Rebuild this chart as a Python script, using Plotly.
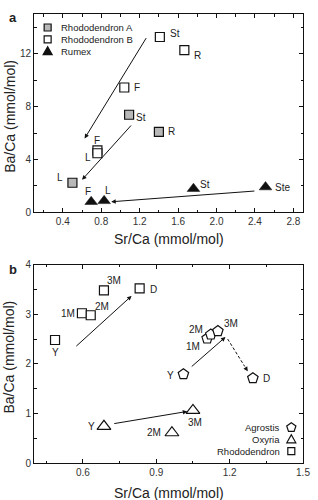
import plotly.graph_objects as go

# ---------------- data: panel a ----------------
rhodoA_x = [1.09, 1.40, 0.50]
rhodoA_y = [7.38, 6.09, 2.24]
rhodoA_lab = ["St", "R", "L"]

rhodoB_x = [1.41, 1.665, 1.04, 0.76, 0.76]
rhodoB_y = [13.26, 12.27, 9.44, 4.69, 4.47]
rhodoB_lab = ["St", "R", "F", "F", "L"]

rumex_x = [0.695, 0.83, 1.76, 2.51]
rumex_y = [0.80, 0.87, 1.79, 1.91]
rumex_lab = ["F", "L", "St", "Ste"]

arrows_a = [((1.277, 13.29), (0.627, 5.59)),
            ((1.124, 6.68), (0.600, 2.46)),
            ((2.41, 1.62), (0.904, 0.80))]

# ---------------- data: panel b ----------------
rhodo_x = [0.486, 0.596, 0.632, 0.686, 0.832]
rhodo_y = [2.48, 3.02, 2.98, 3.48, 3.52]
rhodo_lab = ["Y", "1M", "2M", "3M", "D"]

agro_x = [1.011, 1.108, 1.123, 1.152, 1.295]
agro_y = [1.79, 2.51, 2.59, 2.66, 1.71]
agro_lab = ["Y", "1M", "2M", "3M", "D"]

oxy_x = [0.686, 0.964, 1.05]
oxy_y = [0.74, 0.61, 1.06]
oxy_lab = ["Y", "2M", "3M"]

arrows_b = [((0.567, 2.33), (0.799, 3.37)),
            ((1.039, 1.92), (1.183, 2.54)),
            ((0.722, 0.79), (1.027, 1.04))]
dashed_b = [((1.192, 2.50), (1.274, 1.85))]

# label offsets (pixels): xshift, yshift, xanchor
off_rhodoA = [(5, -3, "left"), (7, 0, "left"), (-7, 5, "right")]
off_rhodoB = [(8, 4, "left"), (8, -5, "left"), (8, 0, "left"), (0, 10, "center"), (-4, -4, "right")]
off_rumex = [(-3, 10, "center"), (4, 10, "center"), (5, 4, "left"), (7, 0, "left")]
off_rhodo = [(0, -12, "center"), (-5, 0, "right"), (11, 9, "center"), (10, 10, "center"), (8, -1, "left")]
off_agro = [(-7, -1, "right"), (-5, -8, "right"), (-6, 5, "right"), (4, 8, "left"), (8, 0, "left")]
off_oxy = [(-7, 0, "right"), (-9, 0, "right"), (2, -12, "center")]

FONT = "Liberation Sans, Arial, sans-serif"
TXT = "#222"

fig = go.Figure()

# panel a traces
fig.add_trace(go.Scatter(x=rhodoA_x, y=rhodoA_y, mode="markers", xaxis="x", yaxis="y",
                         marker=dict(symbol="square", size=9, color="#b8b8b8",
                                     line=dict(color="#111", width=1.2)), showlegend=False))
fig.add_trace(go.Scatter(x=rhodoB_x, y=rhodoB_y, mode="markers", xaxis="x", yaxis="y",
                         marker=dict(symbol="square", size=9, color="white",
                                     line=dict(color="#111", width=1.2)), showlegend=False))
fig.add_trace(go.Scatter(x=rumex_x, y=rumex_y, mode="markers", xaxis="x", yaxis="y",
                         marker=dict(symbol="triangle-up", size=11, color="#111",
                                     line=dict(color="#111", width=0.5)), showlegend=False))

# panel b traces
fig.add_trace(go.Scatter(x=rhodo_x, y=rhodo_y, mode="markers", xaxis="x2", yaxis="y2",
                         marker=dict(symbol="square", size=9, color="white",
                                     line=dict(color="#111", width=1.2)), showlegend=False))
fig.add_trace(go.Scatter(x=agro_x, y=agro_y, mode="markers", xaxis="x2", yaxis="y2",
                         marker=dict(symbol="pentagon", size=11, color="white",
                                     line=dict(color="#111", width=1.2)), showlegend=False))
fig.add_trace(go.Scatter(x=oxy_x, y=oxy_y, mode="markers", xaxis="x2", yaxis="y2",
                         marker=dict(symbol="triangle-up", size=12, color="white",
                                     line=dict(color="#111", width=1.2)), showlegend=False))

ann = []
shapes = []


def add_labels(xs, ys, labs, offs, xr, yr):
    for x, y, t, (dx, dy, anc) in zip(xs, ys, labs, offs):
        ann.append(dict(x=x, y=y, xref=xr, yref=yr, text=t, showarrow=False,
                        xanchor=anc, yanchor="middle", xshift=dx, yshift=dy,
                        font=dict(family=FONT, size=10, color=TXT)))


add_labels(rhodoA_x, rhodoA_y, rhodoA_lab, off_rhodoA, "x", "y")
add_labels(rhodoB_x, rhodoB_y, rhodoB_lab, off_rhodoB, "x", "y")
add_labels(rumex_x, rumex_y, rumex_lab, off_rumex, "x", "y")
add_labels(rhodo_x, rhodo_y, rhodo_lab, off_rhodo, "x2", "y2")
add_labels(agro_x, agro_y, agro_lab, off_agro, "x2", "y2")
add_labels(oxy_x, oxy_y, oxy_lab, off_oxy, "x2", "y2")


def add_arrow(tail, head, xr, yr):
    ann.append(dict(x=head[0], y=head[1], ax=tail[0], ay=tail[1], xref=xr, yref=yr,
                    axref=xr, ayref=yr, text="", showarrow=True, arrowhead=2,
                    arrowsize=0.9, arrowwidth=1, arrowcolor="#111", standoff=0))


for t, h in arrows_a:
    add_arrow(t, h, "x", "y")
for t, h in arrows_b:
    add_arrow(t, h, "x2", "y2")
for t, h in dashed_b:
    f = 0.85
    mid = (t[0] + f * (h[0] - t[0]), t[1] + f * (h[1] - t[1]))
    shapes.append(dict(type="line", xref="x2", yref="y2", x0=t[0], y0=t[1], x1=mid[0], y1=mid[1],
                       line=dict(color="#111", width=1, dash="3px,2px")))
    add_arrow(mid, h, "x2", "y2")

# ---- legends (drawn as shapes + text, pixel-sized) ----
L, T, W, H = 34, 8, 276, 455


def px2paper(px, py):
    return (px - L) / W, (T + H - py) / H


def legend_marker(px, py, kind, fill):
    xa, ya = px2paper(px, py)
    base = dict(xref="paper", yref="paper", xsizemode="pixel", ysizemode="pixel",
                xanchor=xa, yanchor=ya, line=dict(color="#111", width=1.2), fillcolor=fill)
    if kind == "square":
        s = 3.5
        base.update(type="rect", x0=-s, x1=s, y0=-s, y1=s)
    elif kind == "triangle":
        base.update(type="path", path="M -4.5 -3.5 L 4.5 -3.5 L 0 4.5 Z")
    elif kind == "pentagon":
        base.update(type="path", path="M 0 4.8 L 4.6 1.5 L 2.8 -3.9 L -2.8 -3.9 L -4.6 1.5 Z")
    shapes.append(base)


legA = [("Rhododendron A", "square", "#b8b8b8"),
        ("Rhododendron B", "square", "white"),
        ("Rumex", "triangle", "#111")]
for i, (name, kind, fill) in enumerate(legA):
    py = 21.7 + i * 12
    legend_marker(48, py, kind, fill)
    xa, ya = px2paper(60, py)
    ann.append(dict(x=xa, y=ya, xref="paper", yref="paper", text=name, showarrow=False,
                    xanchor="left", yanchor="middle",
                    font=dict(family=FONT, size=9.5, color=TXT)))

legB = [("Agrostis", "pentagon", "white"),
        ("Oxyria", "triangle", "white"),
        ("Rhododendron", "square", "white")]
for i, (name, kind, fill) in enumerate(legB):
    py = 427 + i * 12
    legend_marker(298, py, kind, fill)
    xa, ya = px2paper(288, py)
    ann.append(dict(x=xa, y=ya, xref="paper", yref="paper", text=name, showarrow=False,
                    xanchor="right", yanchor="middle",
                    font=dict(family=FONT, size=9.5, color=TXT)))

# axis titles and panel letters
for text, px, py, rot, size, bold in [
    ("Sr/Ca (mmol/mol)", 172, 236, 0, 14, False),
    ("Sr/Ca (mmol/mol)", 172, 493, 0, 14, False),
    ("Ba/Ca (mmol/mol)", 8.5, 112, -90, 14, False),
    ("Ba/Ca (mmol/mol)", 8.5, 356, -90, 14, False),
    ("a", 12, 12, 0, 13, True),
    ("b", 12, 267, 0, 13, True)]:
    xa, ya = px2paper(px, py)
    ann.append(dict(x=xa, y=ya, xref="paper", yref="paper",
                    text=("<b>%s</b>" % text) if bold else text, showarrow=False,
                    xanchor="center", yanchor="middle", textangle=rot,
                    font=dict(family=FONT, size=size, color=TXT)))

axis_common = dict(showline=True, linecolor="#111", linewidth=1, mirror="ticks",
                   ticks="inside", ticklen=4, tickwidth=1, tickcolor="#111",
                   showgrid=False, zeroline=False,
                   tickfont=dict(family=FONT, size=10, color="#333"))

fig.update_layout(
    width=318, height=500,
    margin=dict(l=L, r=318 - L - W, t=T, b=500 - T - H),
    plot_bgcolor="white", paper_bgcolor="white",
    showlegend=False,
    xaxis=dict(domain=[0, 1], anchor="y", range=[0.1, 2.9], tick0=0.4, dtick=0.4,
               tickformat=".1f",
               minor=dict(ticks="inside", ticklen=2.5, tick0=0.2, dtick=0.4, tickcolor="#111"),
               **axis_common),
    yaxis=dict(domain=[(T + H - 209) / H, 1], anchor="x", range=[0, 15], tick0=0, dtick=4,
               minor=dict(ticks="inside", ticklen=2.5, tick0=2, dtick=4, tickcolor="#111"),
               **axis_common),
    xaxis2=dict(domain=[0, 1], anchor="y2", range=[0.4, 1.5], tick0=0.6, dtick=0.3,
                tickformat=".1f",
                minor=dict(ticks="inside", ticklen=2.5, tick0=0.45, dtick=0.3, tickcolor="#111"),
                **axis_common),
    yaxis2=dict(domain=[0, (T + H - 262) / H], anchor="x2", range=[0, 4], tick0=0, dtick=1,
                minor=dict(ticks="inside", ticklen=2.5, tick0=0.5, dtick=1, tickcolor="#111"),
                **axis_common),
    annotations=ann,
    shapes=shapes,
)

fig.write_html("out.html")
